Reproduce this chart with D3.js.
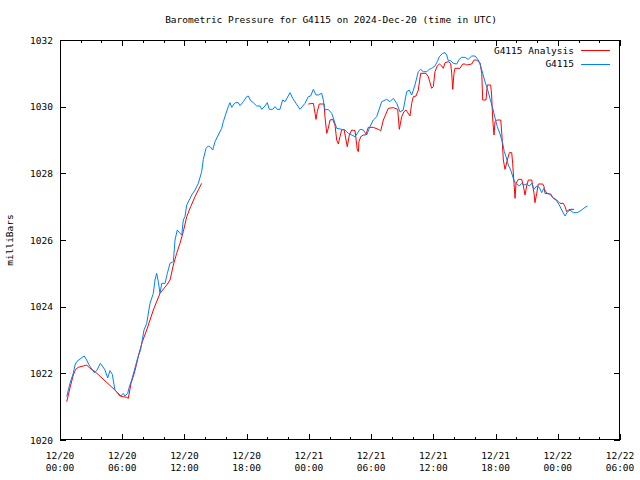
<!DOCTYPE html>
<html><head><meta charset="utf-8">
<script src="https://cdn.jsdelivr.net/npm/d3@7"></script>
<style>
body{margin:0;background:#fff;}
svg{display:block;}
text{font-family:"DejaVu Sans Mono",monospace;font-size:9.5px;fill:#000;}
</style></head>
<body><svg id="c" width="640" height="480"></svg>
<script>
// hours after 2024-12-20 00:00 UTC
const obsHours = [0.65,0.96,1.28,1.45,1.61,1.93,2.34,2.57,2.80,3.06,3.31,3.54,3.89,4.15,4.34,4.60,4.82,5.04,5.30,5.59,5.88,6.10,6.27,6.53,6.65,6.91,7.23,7.49,7.78,8.10,8.36,8.68,9.00,9.16,9.32,9.48,9.64,9.81,10.13,10.35,10.61,10.93,11.09,11.31,11.57,11.74,11.89,12.05,12.22,12.54,12.70,13.02,13.34,13.66,13.82,14.08,14.30,14.53,14.72,14.95,15.26,15.59,15.75,16.01,16.23,16.39,16.56,16.71,16.90,17.19,17.36,17.68,18.00,18.16,18.39,18.64,18.97,19.29,19.45,19.77,19.99,20.18,20.51,20.73,20.95,21.21,21.47,21.70,22.18,22.44,22.76,23.14,23.63,23.94,24.17,24.43,24.69,24.91,25.24,25.39,25.55,25.87,26.20,26.52,26.68,27.16,27.48,27.80,28.13,28.45,28.93,29.25,29.57,29.89,30.21,30.54,31.02,31.50,31.82,32.14,32.47,32.79,33.10,33.43,33.68,33.91,34.23,34.55,34.78,35.03,35.36,35.61,35.84,36.16,36.38,36.58,36.90,37.13,37.29,37.44,37.67,37.93,38.25,38.50,38.74,39.05,39.37,39.70,40.02,40.34,40.50,40.76,40.98,41.20,41.46,41.73,41.95,42.17,42.43,42.69,42.84,43.01,43.23,43.46,43.71,43.88,44.04,44.29,44.52,44.74,45.00,45.25,45.49,45.71,45.97,46.22,46.45,46.67,46.93,47.25,47.57,47.83,48.15,48.38,48.70,48.96,49.18,49.50,49.88,50.31,50.63,50.85];
const obsValues = [1021.30,1021.70,1022.00,1022.25,1022.35,1022.43,1022.52,1022.40,1022.25,1022.13,1022.02,1022.08,1022.30,1022.19,1022.10,1021.86,1022.08,1021.97,1021.50,1021.41,1021.32,1021.40,1021.32,1021.40,1021.56,1021.80,1022.16,1022.46,1022.72,1023.30,1023.50,1024.10,1024.40,1024.80,1025.00,1024.75,1024.40,1024.70,1024.70,1025.00,1025.30,1025.35,1026.00,1026.30,1026.20,1026.15,1026.60,1026.70,1027.05,1027.25,1027.35,1027.50,1027.70,1028.05,1028.42,1028.75,1028.82,1028.78,1028.70,1028.95,1029.15,1029.35,1029.55,1029.80,1030.00,1030.12,1029.98,1030.05,1030.12,1030.12,1030.03,1030.15,1030.30,1030.32,1030.18,1030.12,1030.02,1030.02,1029.92,1030.02,1030.12,1029.92,1029.92,1030.00,1029.92,1029.92,1030.20,1030.15,1030.42,1030.25,1030.10,1029.92,1030.10,1030.30,1030.32,1030.52,1030.35,1030.35,1030.40,1030.20,1029.90,1029.92,1029.80,1029.50,1029.35,1029.32,1029.30,1029.20,1029.15,1029.10,1029.32,1029.30,1029.15,1029.40,1029.60,1029.70,1030.15,1030.22,1030.15,1030.25,1030.10,1029.84,1029.90,1030.45,1030.50,1030.35,1030.65,1031.05,1031.12,1031.05,1031.05,1031.12,1031.15,1031.22,1031.35,1031.50,1031.60,1031.62,1031.55,1031.38,1031.38,1031.30,1031.28,1031.42,1031.48,1031.48,1031.42,1031.52,1031.52,1031.40,1031.28,1031.00,1030.75,1030.55,1030.25,1029.95,1029.66,1029.40,1029.18,1028.90,1028.65,1028.50,1028.25,1028.10,1027.85,1027.72,1027.68,1027.62,1027.70,1027.65,1027.68,1027.62,1027.70,1027.52,1027.62,1027.58,1027.42,1027.55,1027.41,1027.37,1027.25,1027.20,1027.05,1026.90,1026.72,1026.85,1026.90,1026.82,1026.82,1026.90,1026.98,1027.02];
// analysis: null marks the gap in the record
const anaHours = [0.65,0.96,1.28,1.51,1.76,2.25,2.57,2.89,3.38,5.30,5.79,6.10,6.43,6.59,6.85,7.16,7.40,7.62,7.94,8.36,9.00,9.64,10.29,10.61,10.93,11.25,11.57,11.89,12.22,12.60,13.02,13.34,13.66,18.0,
23.94,24.43,24.52,24.69,24.81,25.00,25.46,25.55,25.72,25.87,26.04,26.30,26.52,26.68,26.84,27.00,27.16,27.39,27.58,27.70,27.90,28.13,28.45,28.67,28.77,28.83,29.00,29.25,29.48,29.73,30.21,30.69,30.93,31.18,31.66,32.14,32.56,32.72,32.95,33.17,33.36,33.75,33.91,34.07,34.33,34.55,34.78,35.29,35.51,35.84,36.00,36.16,36.38,36.58,36.81,36.96,37.13,37.44,37.67,37.77,37.87,37.99,38.09,38.57,38.83,39.05,39.21,39.70,39.92,40.18,40.34,40.50,40.67,40.76,41.08,41.20,41.53,41.62,41.73,41.85,41.95,42.11,42.50,42.60,42.75,42.91,43.14,43.33,43.56,43.65,43.78,43.88,43.97,44.20,44.52,44.68,44.84,45.00,45.16,45.49,45.71,45.80,45.97,46.12,46.55,46.67,46.77,47.32,47.57,47.83,48.05,48.21,48.53,48.70,48.86,49.02,49.18,49.57];
const anaValues = [1021.15,1021.56,1021.95,1022.12,1022.18,1022.22,1022.25,1022.15,1022.05,1021.50,1021.32,1021.30,1021.28,1021.25,1021.70,1022.00,1022.30,1022.60,1022.95,1023.30,1023.90,1024.40,1024.65,1024.80,1025.25,1025.60,1025.90,1026.25,1026.70,1027.00,1027.30,1027.50,1027.70,null,
1030.08,1030.10,1029.95,1029.62,1029.85,1030.08,1030.08,1029.70,1029.20,1029.35,1029.60,1029.62,1029.45,1029.00,1028.88,1029.10,1029.30,1029.32,1029.00,1028.80,1029.15,1029.30,1029.28,1028.70,1028.65,1028.95,1029.10,1029.15,1029.15,1029.38,1029.38,1029.32,1029.28,1029.60,1029.95,1029.97,1029.92,1029.32,1029.70,1029.85,1029.90,1029.72,1030.10,1030.30,1030.32,1030.50,1031.00,1031.00,1030.90,1030.55,1030.60,1031.05,1031.22,1031.28,1031.22,1031.15,1031.32,1031.35,1031.30,1031.00,1030.52,1031.00,1031.15,1031.15,1031.28,1031.28,1031.25,1031.28,1031.40,1031.40,1031.35,1031.32,1031.00,1030.20,1030.20,1030.65,1030.65,1030.35,1029.60,1029.15,1029.55,1029.60,1029.60,1029.20,1028.40,1028.12,1028.40,1028.62,1028.62,1028.30,1027.70,1027.25,1027.70,1027.82,1027.82,1027.62,1027.35,1027.62,1027.80,1027.80,1027.40,1027.12,1027.40,1027.68,1027.68,1027.60,1027.40,1027.38,1027.25,1027.22,1027.15,1027.10,1027.10,1027.00,1026.85,1026.90,1026.92,1026.92];
const yTicks = [1020,1022,1024,1026,1028,1030,1032];
const titleText = "Barometric Pressure for G4115 on 2024-Dec-20 (time in UTC)";
const yLabel = "milliBars";
const seriesNames = ["G4115 Analysis","G4115"];
const seriesColors = ["#ff0000","#0080ff"];

const t0 = Date.UTC(2024,11,20,0,0);
const toDate = h => new Date(t0 + h*3600000);
const svg = d3.select("#c");
const L=60,R=620,T=40,B=440;
const x = d3.scaleUtc().domain([toDate(0), toDate(54)]).range([L,R]);
const y = d3.scaleLinear().domain([1020,1032]).range([B,T]);

const majorX = d3.range(0,55,6).map(toDate);
const minorX = d3.range(0,55,2).filter(h=>h%6!==0).map(toDate);

const g = svg.append("g");

// ticks (inward, mirrored)
const tk = g.append("g").attr("stroke","#000").attr("stroke-width",1).attr("shape-rendering","crispEdges");
majorX.forEach(d=>{const px=Math.round(x(d))+0.5;
  tk.append("line").attr("x1",px).attr("x2",px).attr("y1",B).attr("y2",B-6);
  tk.append("line").attr("x1",px).attr("x2",px).attr("y1",T).attr("y2",T+6);});
minorX.forEach(d=>{const px=Math.round(x(d))+0.5;
  tk.append("line").attr("x1",px).attr("x2",px).attr("y1",B).attr("y2",B-3);
  tk.append("line").attr("x1",px).attr("x2",px).attr("y1",T).attr("y2",T+3);});
yTicks.forEach(v=>{const py=Math.round(y(v))+0.5;
  tk.append("line").attr("x1",L).attr("x2",L+6).attr("y1",py).attr("y2",py);
  tk.append("line").attr("x1",R).attr("x2",R-6).attr("y1",py).attr("y2",py);});

// tick labels
const fmtD = d3.utcFormat("%m/%d"), fmtT = d3.utcFormat("%H:%M");
majorX.forEach(d=>{
  g.append("text").attr("x",x(d)).attr("y",459).attr("text-anchor","middle").text(fmtD(d));
  g.append("text").attr("x",x(d)).attr("y",471).attr("text-anchor","middle").text(fmtT(d));
});
yTicks.forEach(v=>{
  g.append("text").attr("x",53).attr("y",y(v)+3.5).attr("text-anchor","end").text(v);
});

// frame
g.append("rect").attr("x",L+0.5).attr("y",T+0.5).attr("width",R-L-1).attr("height",B-T-1)
 .attr("fill","none").attr("stroke","#000").attr("shape-rendering","crispEdges");

// series
const line = d3.line().defined(d=>d[1]!==null).x(d=>x(toDate(d[0]))).y(d=>y(d[1]));
const anaData = anaHours.map((h,i)=>[h,anaValues[i]]);
const obsData = obsHours.map((h,i)=>[h,obsValues[i]]);
g.append("path").datum(anaData).attr("d",line).attr("fill","none").attr("stroke",seriesColors[0]).attr("stroke-width",1).attr("stroke-linejoin","round");
g.append("path").datum(obsData).attr("d",line).attr("fill","none").attr("stroke",seriesColors[1]).attr("stroke-width",1).attr("stroke-linejoin","round");

// legend
seriesNames.forEach((n,i)=>{
  const ly = 50 + i*13.5;
  g.append("text").attr("x",574).attr("y",ly+3.5).attr("text-anchor","end").text(n);
  g.append("line").attr("x1",581).attr("x2",610).attr("y1",Math.round(ly)+0.5).attr("y2",Math.round(ly)+0.5)
   .attr("stroke",seriesColors[i]).attr("stroke-width",1).attr("shape-rendering","crispEdges");
});

// title and axis label
g.append("text").attr("x",331).attr("y",23).attr("text-anchor","middle").text(titleText);
g.append("text").attr("transform","translate(13,240) rotate(-90)").attr("text-anchor","middle").text(yLabel);
</script></body></html>
